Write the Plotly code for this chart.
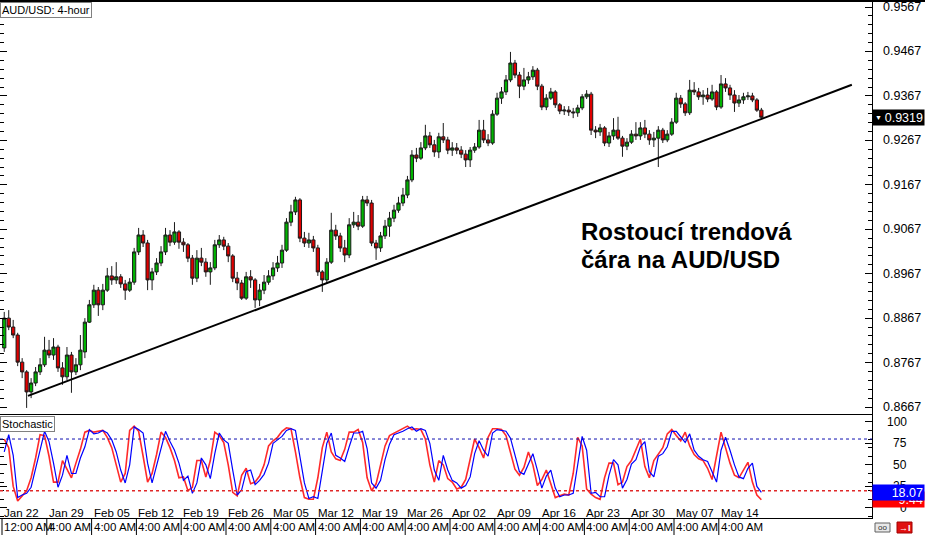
import plotly.graph_objects as go

# ---------------- data ----------------
open_ = [0.8800,0.8867,0.8847,0.8829,0.8768,0.8746,0.8701,0.8721,0.8746,0.8762,
         0.8795,0.8784,0.8802,0.8755,0.8735,0.8784,0.8746,0.8762,0.8791,0.8858,
         0.8897,0.8930,0.8897,0.8930,0.8962,0.8953,0.8960,0.8944,0.8930,0.8948,
         0.9016,0.9054,0.9036,0.8953,0.8971,0.8991,0.9016,0.9054,0.9038,0.9061,
         0.9038,0.9032,0.9002,0.8957,0.9002,0.8993,0.8971,0.8980,0.9032,0.9043,
         0.9029,0.9007,0.8957,0.8946,0.8912,0.8960,0.8953,0.8908,0.8930,0.8948,
         0.8962,0.8980,0.8991,0.9020,0.9083,0.9106,0.9133,0.9047,0.9036,0.9043,
         0.9025,0.8971,0.8953,0.8993,0.9065,0.9052,0.9025,0.9009,0.9077,0.9083,
         0.9074,0.9133,0.9126,0.9036,0.9025,0.9052,0.9074,0.9092,0.9110,0.9126,
         0.9144,0.9178,0.9234,0.9227,0.9250,0.9277,0.9257,0.9241,0.9275,0.9268,
         0.9245,0.9250,0.9245,0.9236,0.9223,0.9245,0.9252,0.9290,0.9268,0.9261,
         0.9326,0.9362,0.9376,0.9403,0.9441,0.9414,0.9389,0.9403,0.9410,0.9425,
         0.9389,0.9342,0.9362,0.9376,0.9347,0.9333,0.9335,0.9331,0.9329,0.9340,
         0.9365,0.9371,0.9290,0.9286,0.9295,0.9261,0.9277,0.9290,0.9272,0.9254,
         0.9263,0.9281,0.9277,0.9295,0.9281,0.9268,0.9272,0.9290,0.9268,0.9281,
         0.9308,0.9362,0.9349,0.9329,0.9380,0.9376,0.9365,0.9369,0.9360,0.9376,
         0.9342,0.9394,0.9385,0.9369,0.9351,0.9358,0.9365,0.9367,0.9358,0.9335]
high = [0.8881,0.8885,0.8863,0.8834,0.8777,0.8750,0.8732,0.8757,0.8777,0.8825,
        0.8818,0.8822,0.8807,0.8768,0.8802,0.8791,0.8777,0.8829,0.8867,0.8908,
        0.8942,0.8937,0.8944,0.8980,0.8984,0.8993,0.8966,0.8953,0.8957,0.9025,
        0.9070,0.9065,0.9043,0.8980,0.9002,0.9029,0.9070,0.9065,0.9083,0.9065,
        0.9047,0.9036,0.9009,0.9020,0.9025,0.9002,0.8993,0.9043,0.9054,0.9050,
        0.9036,0.9011,0.8971,0.8953,0.8971,0.8975,0.8957,0.8944,0.8964,0.8975,
        0.8993,0.9007,0.9032,0.9092,0.9122,0.9140,0.9137,0.9061,0.9059,0.9052,
        0.9032,0.8975,0.9002,0.9104,0.9077,0.9059,0.9043,0.9092,0.9106,0.9099,
        0.9142,0.9142,0.9133,0.9043,0.9061,0.9088,0.9106,0.9122,0.9140,0.9160,
        0.9187,0.9245,0.9250,0.9263,0.9302,0.9286,0.9268,0.9284,0.9306,0.9275,
        0.9263,0.9261,0.9254,0.9245,0.9252,0.9261,0.9313,0.9313,0.9281,0.9335,
        0.9374,0.9387,0.9414,0.9466,0.9448,0.9421,0.9430,0.9421,0.9434,0.9430,
        0.9394,0.9371,0.9385,0.9380,0.9351,0.9344,0.9344,0.9340,0.9347,0.9371,
        0.9380,0.9376,0.9299,0.9304,0.9299,0.9286,0.9317,0.9320,0.9277,0.9272,
        0.9290,0.9308,0.9308,0.9313,0.9290,0.9286,0.9299,0.9295,0.9290,0.9317,
        0.9374,0.9369,0.9353,0.9403,0.9398,0.9385,0.9380,0.9385,0.9392,0.9380,
        0.9414,0.9407,0.9392,0.9380,0.9369,0.9374,0.9376,0.9374,0.9362,0.9340]
low = [0.8791,0.8840,0.8822,0.8759,0.8732,0.8665,0.8687,0.8714,0.8739,0.8757,
       0.8777,0.8773,0.8746,0.8717,0.8728,0.8699,0.8739,0.8750,0.8777,0.8856,
       0.8890,0.8872,0.8885,0.8926,0.8942,0.8944,0.8935,0.8908,0.8926,0.8942,
       0.9009,0.9027,0.8930,0.8930,0.8964,0.8984,0.9009,0.9029,0.9032,0.9023,
       0.9016,0.8993,0.8942,0.8948,0.8984,0.8960,0.8942,0.8975,0.9025,0.9020,
       0.8993,0.8948,0.8930,0.8908,0.8908,0.8935,0.8890,0.8894,0.8921,0.8942,
       0.8953,0.8971,0.8980,0.9016,0.9074,0.9099,0.9038,0.9027,0.9025,0.9016,
       0.8962,0.8926,0.8944,0.8989,0.9043,0.9016,0.8993,0.9002,0.9070,0.9065,
       0.9070,0.9119,0.9029,0.8998,0.9016,0.9045,0.9050,0.9083,0.9104,0.9119,
       0.9137,0.9173,0.9218,0.9223,0.9245,0.9250,0.9230,0.9227,0.9261,0.9236,
       0.9232,0.9236,0.9227,0.9207,0.9207,0.9239,0.9248,0.9261,0.9254,0.9257,
       0.9322,0.9349,0.9369,0.9398,0.9407,0.9362,0.9380,0.9394,0.9403,0.9380,
       0.9335,0.9335,0.9358,0.9340,0.9326,0.9324,0.9322,0.9317,0.9320,0.9335,
       0.9360,0.9279,0.9272,0.9277,0.9254,0.9252,0.9268,0.9268,0.9230,0.9245,
       0.9259,0.9268,0.9268,0.9272,0.9257,0.9252,0.9207,0.9261,0.9263,0.9277,
       0.9304,0.9340,0.9322,0.9324,0.9369,0.9358,0.9347,0.9353,0.9356,0.9335,
       0.9338,0.9376,0.9358,0.9331,0.9342,0.9349,0.9358,0.9353,0.9331,0.9315]
close = [0.8867,0.8847,0.8829,0.8768,0.8746,0.8701,0.8721,0.8746,0.8762,0.8795,
         0.8784,0.8802,0.8755,0.8735,0.8784,0.8746,0.8762,0.8795,0.8858,0.8897,
         0.8930,0.8897,0.8930,0.8962,0.8953,0.8960,0.8944,0.8930,0.8948,0.9016,
         0.9054,0.9036,0.8953,0.8971,0.8991,0.9016,0.9054,0.9038,0.9061,0.9038,
         0.9032,0.9002,0.8957,0.9002,0.8993,0.8971,0.8980,0.9032,0.9043,0.9029,
         0.9007,0.8957,0.8946,0.8912,0.8960,0.8953,0.8908,0.8930,0.8948,0.8962,
         0.8980,0.8991,0.9020,0.9083,0.9106,0.9133,0.9047,0.9036,0.9043,0.9025,
         0.8971,0.8953,0.8993,0.9065,0.9052,0.9025,0.9009,0.9077,0.9083,0.9074,
         0.9133,0.9126,0.9036,0.9025,0.9052,0.9074,0.9092,0.9110,0.9126,0.9144,
         0.9178,0.9234,0.9227,0.9250,0.9277,0.9257,0.9241,0.9275,0.9268,0.9245,
         0.9250,0.9245,0.9236,0.9223,0.9245,0.9252,0.9290,0.9268,0.9261,0.9326,
         0.9362,0.9376,0.9403,0.9441,0.9414,0.9389,0.9403,0.9410,0.9425,0.9389,
         0.9342,0.9362,0.9376,0.9347,0.9333,0.9335,0.9331,0.9329,0.9340,0.9365,
         0.9371,0.9290,0.9286,0.9295,0.9261,0.9277,0.9290,0.9272,0.9254,0.9263,
         0.9281,0.9277,0.9295,0.9281,0.9268,0.9272,0.9290,0.9268,0.9281,0.9308,
         0.9362,0.9349,0.9329,0.9380,0.9376,0.9365,0.9369,0.9360,0.9376,0.9342,
         0.9394,0.9385,0.9369,0.9351,0.9358,0.9365,0.9367,0.9358,0.9335,0.9319]

# stochastic: red = fast line, blue = slow line
stoch_red = [80,70,25,8,14,20,35,58,85,84,
             60,30,30,55,45,35,52,68,88,90,
             88,89,90,82,70,50,30,40,90,95,
             89,60,30,40,62,88,82,70,55,35,
             36,20,24,55,55,36,55,88,84,76,
             50,18,14,38,46,28,30,37,50,72,
             78,82,89,93,92,65,35,12,10,10,
             35,70,88,65,57,55,68,88,88,91,
             76,35,20,28,52,72,84,87,89,92,
             95,91,92,91,80,50,30,55,50,34,
             30,22,24,33,58,80,70,58,82,92,
             92,91,84,65,45,38,47,65,50,26,
             33,44,27,12,14,16,15,40,82,72,
             22,16,12,10,35,52,52,27,30,48,
             55,68,80,48,35,55,62,70,86,91,
             84,78,88,72,62,57,55,46,33,62,
             88,70,52,38,35,44,53,30,15,9.44]
stoch_blue = [65,85,61,12,15,17,24,44,67,89,
              77,52,24,38,61,40,40,58,71,91,
              86,87,90,87,79,65,44,29,50,94,
              91,87,52,29,48,67,89,77,67,52,
              32,37,17,29,58,50,34,63,87,79,
              75,44,15,21,42,44,27,32,39,52,
              75,79,83,90,92,90,58,29,11,13,
              11,42,75,87,61,58,54,71,87,87,
              89,69,29,23,32,56,74,85,87,89,
              92,94,89,92,90,75,44,32,61,44,
              32,29,23,26,36,63,78,67,60,87,
              91,90,89,81,60,42,39,50,63,44,
              23,37,44,23,13,15,15,17,48,83,
              67,17,18,13,13,38,56,50,23,33,
              51,56,71,77,42,36,60,63,71,89,
              89,82,76,86,67,60,56,54,43,30,
              67,82,67,50,36,34,46,52,25,18.07]

week_labels = ["Jan 22","Jan 29","Feb 05","Feb 12","Feb 19","Feb 26","Mar 05","Mar 12",
               "Mar 19","Mar 26","Apr 02","Apr 09","Apr 16","Apr 23","Apr 30","May 07","May 14"]
time_labels = ["12:00 AM"] + ["4:00 AM"] * 16
candles_per_week = 10
price_ticks = [0.8667,0.8767,0.8867,0.8967,0.9067,0.9167,0.9267,0.9367,0.9467,0.9567]
stoch_ticks = [100, 75, 50, 25, 0]
stoch_levels = [80, 20]
trend_idx = [5.3, 189.2]
trend_price = [0.8692, 0.9392]
title_text = "AUD/USD: 4-hour"
note_lines = ["Rostoucí trendová", "čára na AUD/USD"]

# ---------------- geometry ----------------
W, H = 925, 535
MR, MB = 53, 17
PW, PH = W - MR, H - MB
SLOT, X0 = 4.48, 4.24          # px per candle, centre of first candle
FONT = "Liberation Sans, Arial, sans-serif"

def py(p):   # pixel row -> paper y
    return (PH - p) / PH

def pxp(p):  # pixel column -> paper x
    return p / PW

idx = list(range(len(close)))
xr = [-X0 / SLOT, (PW - X0) / SLOT]
price_range = [0.86513, 0.95828]
stoch_range = [-11.7, 107.9]
week_start = [k * candles_per_week - 0.5 for k in range(len(week_labels))]

fig = go.Figure()
fig.add_trace(go.Candlestick(
    x=idx, open=open_, high=high, low=low, close=close,
    increasing=dict(line=dict(color="#1a1a1a", width=1), fillcolor="#00b400"),
    decreasing=dict(line=dict(color="#1a1a1a", width=1), fillcolor="#e00000"),
    whiskerwidth=0, xaxis="x", yaxis="y", showlegend=False, hoverinfo="skip"))
fig.add_trace(go.Scatter(x=trend_idx, y=trend_price, mode="lines",
                         line=dict(color="black", width=2), xaxis="x", yaxis="y",
                         showlegend=False, hoverinfo="skip"))
fig.add_trace(go.Scatter(x=idx, y=stoch_red, mode="lines",
                         line=dict(color="#ff2a2a", width=1.6), xaxis="x2", yaxis="y2",
                         showlegend=False, hoverinfo="skip"))
fig.add_trace(go.Scatter(x=idx, y=stoch_blue, mode="lines",
                         line=dict(color="#0000ff", width=1.2), xaxis="x2", yaxis="y2",
                         showlegend=False, hoverinfo="skip"))
# carriers for the left-edge tick axes
fig.add_trace(go.Scatter(x=[idx[0]], y=[close[0]], mode="markers", marker=dict(opacity=0),
                         xaxis="x", yaxis="y3", showlegend=False, hoverinfo="skip"))
fig.add_trace(go.Scatter(x=[idx[0]], y=[stoch_blue[0]], mode="markers", marker=dict(opacity=0),
                         xaxis="x2", yaxis="y4", showlegend=False, hoverinfo="skip"))

minor_p = dict(tickmode="linear", tick0=price_ticks[0], dtick=0.002, ticks="inside",
               ticklen=4, tickcolor="black", showgrid=False)
minor_s = dict(tickmode="linear", tick0=0, dtick=10, ticks="inside",
               ticklen=4, tickcolor="black", showgrid=False)

fig.update_layout(
    width=W, height=H, margin=dict(l=0, r=MR, t=0, b=MB, autoexpand=False),
    paper_bgcolor="white", plot_bgcolor="white",
    font=dict(family=FONT, color="black", size=12),
    boxgap=0.2, boxgroupgap=0.1,
    xaxis=dict(domain=[0, 1], anchor="y", range=xr, showline=True, linecolor="black",
               linewidth=1, showticklabels=False, ticks="", showgrid=False, zeroline=False,
               rangeslider=dict(visible=False), automargin=False),
    xaxis2=dict(domain=[0, 1], anchor="y2", range=xr, matches="x", showline=True, mirror=True,
                linecolor="black", linewidth=1, showticklabels=False, ticks="",
                showgrid=False, zeroline=False, automargin=False),
    yaxis=dict(domain=[py(414), 1], anchor="x", side="right", range=price_range,
               tickvals=price_ticks, showticklabels=False,
               ticks="inside", ticklen=7, tickcolor="black", showline=True,
               linecolor="black", linewidth=1, showgrid=False, zeroline=False,
               minor=minor_p, automargin=False),
    yaxis3=dict(overlaying="y", anchor="x", side="left", range=price_range,
                tickvals=price_ticks, ticks="inside", ticklen=7, tickcolor="black",
                showticklabels=False, showline=False, showgrid=False, zeroline=False,
                minor=minor_p, automargin=False),
    yaxis2=dict(domain=[0, py(415)], anchor="x2", side="right", range=stoch_range,
                tickvals=stoch_ticks, showticklabels=False, ticks="inside", ticklen=7,
                tickcolor="black", showline=True, linecolor="black", linewidth=1,
                showgrid=False, zeroline=False, minor=minor_s, automargin=False),
    yaxis4=dict(overlaying="y2", anchor="x2", side="left", range=stoch_range,
                tickvals=stoch_ticks, ticks="inside", ticklen=7, tickcolor="black",
                showticklabels=False, showline=False, showgrid=False, zeroline=False,
                minor=minor_s, automargin=False),
)

shapes = []
# top frame line
shapes.append(dict(type="line", xref="paper", yref="paper", x0=0, x1=W / PW, y0=py(1), y1=py(1),
                   line=dict(color="black", width=2)))
# stochastic levels
lvl_colors = ["#1010b0", "#e02828"]
lvl_widths = [1, 1.6]
for lv, c, w in zip(stoch_levels, lvl_colors, lvl_widths):
    shapes.append(dict(type="line", xref="paper", yref="y2", x0=0, x1=1, y0=lv, y1=lv,
                       line=dict(color=c, width=w, dash="dot")))
# week separators in the time row
for ws in week_start:
    shapes.append(dict(type="line", xref="x2", yref="paper", x0=ws, x1=ws, y0=py(H), y1=py(PH),
                       line=dict(color="black", width=1)))
# bottom-right icons
shapes.append(dict(type="rect", xref="paper", yref="paper", x0=pxp(875), x1=pxp(890),
                   y0=py(532), y1=py(523), line=dict(color="#606060", width=1), fillcolor="#e8e8e8"))
shapes.append(dict(type="rect", xref="paper", yref="paper", x0=pxp(897), x1=pxp(912),
                   y0=py(533), y1=py(522), line=dict(color="#a00000", width=1), fillcolor="#e01010"))
fig.update_layout(shapes=shapes)

ann = []
ann.append(dict(xref="paper", yref="paper", x=0, y=py(2), xanchor="left", yanchor="top",
                text=title_text, showarrow=False, font=dict(size=11, color="black"),
                bgcolor="white", bordercolor="#808080", borderwidth=1, borderpad=1))
ann.append(dict(xref="paper", yref="paper", x=0, y=py(416), xanchor="left", yanchor="top",
                text="Stochastic", showarrow=False, font=dict(size=11, color="black"),
                bgcolor="white", bordercolor="#808080", borderwidth=1, borderpad=1))
# note text
for k, line in enumerate(note_lines):
    ann.append(dict(xref="paper", yref="paper", x=pxp(579), y=py(231 + 28 * k),
                    xanchor="left", yanchor="middle", text=f"<b>{line}</b>", showarrow=False,
                    font=dict(size=24, color="black", family=FONT)))
# date and time labels
for ws, dl, tl in zip(week_start, week_labels, time_labels):
    ann.append(dict(xref="x2", yref="paper", x=ws, y=py(513), xanchor="left", yanchor="middle",
                    text=dl, showarrow=False, font=dict(size=11.5, color="black")))
    ann.append(dict(xref="x2", yref="paper", x=ws, y=py(527), xanchor="left", yanchor="middle",
                    text=tl, showarrow=False, font=dict(size=11.5, color="black")))
# price axis labels
for v in price_ticks:
    ann.append(dict(xref="paper", yref="y", x=pxp(881), y=v, xanchor="left", yanchor="middle",
                    text=f"{v:.4f}", showarrow=False, font=dict(size=12.5, color="black")))
# stochastic axis labels (right aligned)
for v in stoch_ticks:
    ann.append(dict(xref="paper", yref="y2", x=pxp(909), y=v, xanchor="right", yanchor="middle",
                    text=str(v), showarrow=False, font=dict(size=12, color="black")))
# current value boxes
ann.append(dict(xref="paper", yref="y2", x=1, y=stoch_red[-1], xanchor="left", yanchor="middle",
                text=f"{stoch_red[-1]:.2f}", showarrow=False, align="right", width=49, height=13,
                bgcolor="#ff0000", font=dict(size=12.5, color="white"), borderpad=1))
ann.append(dict(xref="paper", yref="y2", x=1, y=stoch_blue[-1], xanchor="left", yanchor="middle",
                text=f"{stoch_blue[-1]:.2f}", showarrow=False, align="right", width=49, height=13,
                bgcolor="#0000ff", font=dict(size=12.5, color="white"), borderpad=1))
ann.append(dict(xref="paper", yref="y", x=1, y=close[-1], xanchor="left", yanchor="middle",
                text=f"{close[-1]:.4f}", showarrow=False, align="right", width=49, height=13,
                bgcolor="black", font=dict(size=12.5, color="white"), borderpad=1))
ann.append(dict(xref="paper", yref="y", x=pxp(873), y=close[-1], xanchor="left", yanchor="middle",
                text="▼", showarrow=False, font=dict(size=7, color="white")))
ann.append(dict(xref="paper", yref="paper", x=pxp(904.5), y=py(527.5), xanchor="center",
                yanchor="middle", text="<b>→I</b>", showarrow=False,
                font=dict(size=9, color="white")))
ann.append(dict(xref="paper", yref="paper", x=pxp(882.5), y=py(527.5), xanchor="center",
                yanchor="middle", text="oo", showarrow=False,
                font=dict(size=8, color="#303030")))
fig.update_layout(annotations=ann)

fig.write_html("out.html", config={"displayModeBar": False},
               post_script="document.body.style.margin='0';document.body.style.overflow='hidden';")
